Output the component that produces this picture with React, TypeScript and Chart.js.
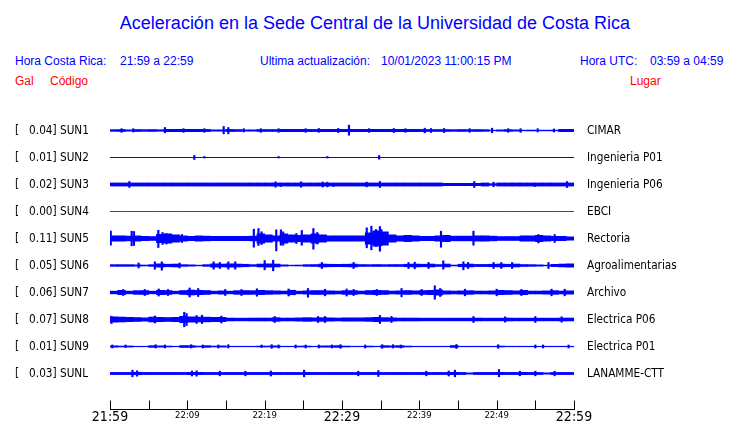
import React, { useEffect, useRef } from 'react';
import { Chart, registerables } from 'chart.js';
Chart.register(...registerables);

// ---------- data ----------
const stationCodes = ['SUN1', 'SUN2', 'SUN3', 'SUN4', 'SUN5', 'SUN6', 'SUN7', 'SUN8', 'SUN9', 'SUNL'];
const peakGal = ['0.04', '0.01', '0.02', '0.00', '0.11', '0.05', '0.06', '0.07', '0.01', '0.03'];
const places = ['CIMAR', 'Ingenieria P01', 'Ingenieria P06', 'EBCI', 'Rectoria', 'Agroalimentarias', 'Archivo', 'Electrica P06', 'Electrica P01', 'LANAMME-CTT'];
const traceColors = ['#0000ff', '#0000ff', '#0000ff', '#ff0000', '#0000ff', '#0000ff', '#0000ff', '#0000ff', '#0000ff', '#0000ff'];
// x axis: minutes after 21:59, tick every 5 min
const xTickLabels = ['21:59', '', '22:09', '', '22:19', '', '22:29', '', '22:39', '', '22:49', '', '22:59'];

// per-minute envelope half-amplitude of each record (y units, trace spacing = 27)
const band1 = [1.2, 1.3, 1.0, 1.3, 1.2, 1.3, 1.1, 1.5, 1.5, 1.5, 1.5, 1.5, 1.4, 1.0, 1.0, 1.4, 1.3, 1.0, 1.0, 1.3, 1.3, 1.3, 1.5, 1.5, 1.5, 1.4, 1.4, 1.5, 1.5, 1.5, 1.5, 1.5, 1.5, 1.5, 1.5, 1.5, 1.5, 1.5, 1.5, 1.5, 1.4, 1.3, 1.3, 1.3, 1.2, 1.3, 1.2, 1.3, 1.2, 0.7, 1.0, 1.2, 1.0, 0.7, 0.8, 0.7, 0.7, 0.7, 1.5, 1.5];
const band2 = [0.5, 0.5, 0.5, 0.5, 0.5, 0.5, 0.5, 0.5, 0.5, 0.5, 0.5, 0.5, 0.5, 0.5, 0.5, 0.5, 0.5, 0.5, 0.5, 0.5, 0.5, 0.5, 0.5, 0.5, 0.5, 0.5, 0.5, 0.5, 0.5, 0.5, 0.5, 0.5, 0.5, 0.5, 0.5, 0.5, 0.5, 0.5, 0.5, 0.5, 0.5, 0.5, 0.5, 0.5, 0.5, 0.5, 0.5, 0.5, 0.5, 0.5, 0.5, 0.5, 0.5, 0.5, 0.5, 0.5, 0.5, 0.5, 0.5, 0.5];
const band3 = [1.9, 1.9, 1.9, 1.9, 1.9, 1.9, 1.9, 1.9, 1.9, 1.9, 1.9, 1.9, 1.9, 1.9, 1.9, 1.9, 1.9, 1.9, 1.9, 1.9, 1.9, 1.9, 1.9, 1.9, 1.9, 1.9, 1.9, 1.9, 1.9, 1.9, 1.9, 1.9, 1.9, 1.9, 1.9, 1.9, 1.9, 1.9, 1.9, 1.9, 1.9, 1.9, 1.9, 1.5, 1.5, 1.5, 1.5, 1.5, 1.9, 1.2, 1.9, 1.9, 1.9, 1.9, 1.9, 1.9, 1.9, 1.9, 1.9, 1.9];
const band4 = [0.5, 0.5, 0.5, 0.5, 0.5, 0.5, 0.5, 0.5, 0.5, 0.5, 0.5, 0.5, 0.5, 0.5, 0.5, 0.5, 0.5, 0.5, 0.5, 0.5, 0.5, 0.5, 0.5, 0.5, 0.5, 0.5, 0.5, 0.5, 0.5, 0.5, 0.5, 0.5, 0.5, 0.5, 0.5, 0.5, 0.5, 0.5, 0.5, 0.5, 0.5, 0.5, 0.5, 0.5, 0.5, 0.5, 0.5, 0.5, 0.5, 0.5, 0.5, 0.5, 0.5, 0.5, 0.5, 0.5, 0.5, 0.5, 0.5, 0.5];
const band5 = [3.0, 3.0, 2.7, 3.0, 2.5, 2.3, 4.5, 5.0, 4.0, 3.0, 2.5, 3.0, 2.7, 2.5, 2.5, 2.5, 2.5, 2.5, 2.7, 5.0, 4.0, 3.0, 5.0, 4.0, 3.5, 4.0, 5.0, 4.0, 3.0, 3.0, 3.0, 3.0, 3.0, 6.0, 8.0, 7.0, 4.0, 3.0, 3.5, 3.0, 2.5, 2.5, 3.0, 3.5, 2.7, 2.7, 2.7, 3.0, 3.0, 2.7, 2.3, 2.3, 2.3, 3.0, 3.0, 3.5, 3.0, 2.5, 2.5, 2.0];
const band6 = [1.2, 1.2, 1.2, 1.0, 0.8, 1.2, 2.0, 1.6, 1.8, 1.2, 1.0, 0.7, 1.2, 2.0, 1.8, 2.0, 1.8, 1.6, 1.2, 1.8, 2.0, 1.8, 1.0, 0.7, 0.8, 1.2, 1.3, 1.8, 1.6, 1.5, 1.6, 1.8, 1.3, 1.2, 1.3, 1.2, 1.3, 1.3, 1.6, 1.8, 1.6, 1.8, 1.3, 1.8, 0.8, 1.6, 1.8, 1.4, 1.4, 1.6, 1.8, 1.6, 1.8, 1.3, 1.2, 1.0, 0.7, 1.5, 1.8, 2.0];
const band7 = [1.7, 2.5, 1.7, 2.2, 2.3, 1.7, 2.5, 2.3, 1.7, 2.3, 2.8, 2.5, 2.3, 1.7, 2.0, 1.7, 2.2, 2.3, 2.2, 2.5, 2.2, 2.0, 1.8, 2.6, 1.7, 2.0, 2.3, 2.3, 2.0, 1.8, 2.2, 2.3, 1.8, 2.3, 2.5, 2.3, 1.8, 2.0, 2.3, 2.0, 2.3, 2.5, 3.0, 2.0, 1.8, 2.0, 2.2, 1.8, 1.8, 2.0, 2.5, 2.3, 2.0, 2.5, 1.8, 1.8, 2.0, 2.2, 1.8, 2.0];
const band8 = [3.0, 2.8, 2.5, 2.3, 2.0, 2.8, 2.5, 2.3, 2.5, 3.5, 3.0, 2.8, 2.7, 2.5, 2.5, 1.8, 1.7, 1.7, 1.8, 1.8, 1.8, 2.2, 1.8, 1.8, 2.0, 2.2, 2.0, 2.2, 2.0, 1.8, 2.0, 2.0, 2.0, 2.2, 2.5, 2.2, 2.0, 1.8, 1.8, 1.8, 1.7, 1.7, 1.7, 1.7, 1.7, 1.7, 1.7, 1.8, 1.7, 1.7, 1.7, 1.8, 1.7, 1.7, 1.7, 1.7, 1.7, 1.7, 1.8, 1.8];
const band9 = [1.0, 0.8, 0.9, 0.6, 0.6, 1.2, 1.0, 0.8, 0.6, 1.3, 1.2, 0.8, 1.2, 0.8, 1.0, 0.6, 0.6, 0.6, 0.6, 0.8, 0.8, 1.0, 0.6, 0.6, 0.8, 0.8, 0.6, 1.0, 1.0, 1.2, 0.8, 0.6, 0.6, 0.8, 0.6, 1.2, 1.0, 1.2, 0.8, 0.6, 0.6, 0.6, 0.6, 0.6, 1.3, 0.6, 0.6, 0.6, 0.6, 0.6, 0.8, 0.6, 0.6, 0.6, 0.6, 0.6, 0.6, 0.6, 0.6, 0.6];
const bandL = [1.4, 1.4, 1.4, 1.6, 1.4, 1.4, 1.4, 1.4, 1.4, 1.4, 1.5, 1.5, 1.4, 1.4, 1.4, 1.4, 1.4, 1.4, 1.4, 1.4, 1.4, 1.4, 1.4, 1.4, 1.4, 1.5, 1.4, 1.4, 1.4, 1.4, 1.4, 1.4, 1.4, 1.4, 1.4, 1.4, 1.4, 1.4, 1.4, 1.4, 1.4, 1.4, 1.4, 1.4, 1.5, 1.4, 1.0, 1.4, 1.4, 1.4, 1.5, 1.4, 1.4, 1.5, 1.4, 1.4, 1.0, 1.4, 1.4, 1.4];

// short peaks: [minute, amplitude up, amplitude down]
const spikes1 = [[1.5, 1.8, 1.8], [3.0, 1.8, 1.5], [7.1, 3, 2.3], [9.5, 1.8, 1.8], [12.2, 1.8, 1.8], [14.7, 4, 3.3], [15.3, 3, 3.3], [17.3, 1.8, 1.5], [19.5, 1.8, 1.8], [21.8, 1.8, 1.8], [25.3, 1.8, 1.8], [27.0, 2, 1.8], [29.5, 2, 2], [30.9, 5.3, 4.7], [33.5, 1.8, 1.8], [36.7, 2, 2], [38.2, 1.8, 1.8], [40.7, 2.3, 2.3], [41.5, 2, 2], [43.2, 2, 2], [46.5, 1.8, 1.8], [49.4, 2.3, 2.3], [51.5, 1.8, 1.8], [53.1, 1.8, 1.8], [55.3, 1.8, 1.5], [57.4, 1.5, 1.5]];
const spikes2 = [[10.9, 2, 2], [12.2, 1, 0.5], [21.8, 1, 0.5], [28.1, 1, 0.5], [34.8, 2, 1.7]];
const spikes3 = [[2.5, 3, 3], [21.4, 2.7, 2.7], [22.1, 0.5, 2], [24.7, 2.7, 2.7], [27.5, 2.5, 2.5], [28.1, 2.3, 2.3], [28.9, 0.5, 2], [33.2, 2.3, 2.3], [34.9, 3, 3], [47.1, 3, 3], [49.6, 2.3, 2.3], [54.9, 0.5, 2], [59.1, 3, 3]];
const spikes4: number[][] = [];
const spikes5 = [[0.1, 7.3, 6.7], [2.8, 7.3, 7.3], [3.1, 7, 7], [6.25, 8.3, 9], [6.8, 6, 6], [7.3, 5, 5.5], [9.3, 4, 4], [18.6, 9.3, 8.7], [19.2, 10, 7], [19.6, 6.7, 6], [21.5, 8.7, 12.3], [22.1, 8.7, 6.7], [22.4, 6.7, 6.7], [24.1, 5, 5], [24.8, 8, 6.7], [26.3, 10, 10.7], [26.8, 6, 5.5], [33.2, 10.7, 9.3], [33.8, 12.3, 11.3], [34.4, 9, 8], [34.9, 12, 12.7], [35.1, 9, 7.3], [42.8, 7.3, 8.7], [47.0, 7.3, 6.7], [55.4, 4, 4.5], [57.5, 4, 4]];
const spikes6 = [[3.7, 2.5, 2.5], [5.8, 3.7, 3.7], [6.7, 3.7, 4.7], [9.0, 2.5, 2.5], [13.4, 3.7, 3.7], [14.2, 3, 3], [15.3, 3.7, 3.7], [16.2, 3.7, 3.7], [20.0, 5, 4.3], [21.1, 5.3, 5.3], [27.4, 3, 3], [31.5, 3, 3], [38.6, 3, 3], [39.4, 3.3, 3.3], [41.2, 3, 3], [43.1, 4.7, 3.7], [45.7, 3.7, 4.3], [46.3, 3, 3], [49.6, 3, 3], [50.6, 3, 3], [52.0, 3, 3], [56.7, 3, 3]];
const spikes7 = [[1.7, 3, 3], [4.5, 3, 3], [6.3, 3.5, 3.5], [7.5, 3, 3], [10.3, 4.5, 4.5], [11.4, 4, 4], [14.9, 3, 3], [17.0, 3, 3], [19.0, 3.7, 3.7], [23.1, 3.5, 3.5], [25.6, 4, 4.7], [27.8, 3.3, 3.3], [30.6, 3.5, 3.5], [31.5, 3, 3], [34.5, 3, 3], [37.7, 4, 4.3], [40.3, 3, 3], [42.0, 6.7, 6.7], [42.7, 4, 4], [45.9, 3.3, 3.3], [50.0, 3.3, 3.3], [53.2, 3, 3], [57.1, 3.3, 3.3], [58.8, 3.3, 3.3]];
const spikes8 = [[0.2, 3.3, 4], [5.8, 3.5, 3.5], [9.6, 7.3, 7.3], [9.9, 6, 6], [11.2, 4, 4], [11.9, 4.3, 4], [14.4, 3.5, 3.5], [21.3, 3, 3], [26.9, 3, 3], [27.8, 3, 3], [34.9, 4, 4], [36.4, 3, 3], [47.0, 3, 3], [51.1, 2.7, 2.7], [55.0, 3, 3], [58.4, 2.7, 2.7]];
const spikes9 = [[0.3, 1.5, 1.5], [2.0, 1.5, 1], [5.9, 1.8, 1.5], [7.1, 1.5, 1.5], [10.5, 1.8, 1.5], [12.0, 1.5, 1.5], [14.0, 1.5, 1.5], [15.3, 1.8, 1.5], [19.6, 1.5, 1], [20.9, 1.8, 1.8], [21.8, 1.5, 1.5], [24.0, 1.5, 1.5], [25.3, 1.5, 1.5], [27.0, 1.5, 1.5], [28.7, 1.5, 1.5], [29.8, 1.8, 1.8], [33.0, 1.5, 1.5], [35.2, 1.8, 1.8], [36.6, 1.8, 1.5], [37.6, 1.5, 1.5], [44.8, 2, 2], [50.2, 1.8, 1.8], [55.0, 1.5, 1.5], [56.0, 1.5, 1.5], [59.3, 1.5, 1.5]];
const spikesL = [[2.9, 3.3, 3.3], [3.5, 2.7, 2.7], [10.6, 2.5, 2.5], [11.2, 2.7, 2.7], [14.2, 2.3, 2.3], [17.5, 2.3, 2.3], [20.8, 2.5, 2.5], [25.1, 3.3, 3.3], [32.1, 2.3, 2.3], [34.7, 3, 3], [40.9, 2.3, 2.3], [43.8, 2.5, 2.5], [44.6, 3.3, 3.3], [50.3, 4, 3.3], [53.0, 2.3, 2.3], [55.0, 2.3, 2.3], [57.5, 2.3, 2.3]];

const bands = [band1, band2, band3, band4, band5, band6, band7, band8, band9, bandL];
const spikes = [spikes1, spikes2, spikes3, spikes4, spikes5, spikes6, spikes7, spikes8, spikes9, spikesL];

// ---------- layout constants ----------
const TRACE_SPACING = 27;
const W = 740;
const H = 423;
const SIDE_FONT = "'DejaVu Sans Condensed', 'DejaVu Sans', sans-serif";
const HEAD_FONT = "'Liberation Sans', Arial, Helvetica, sans-serif";
const BLUE = '#0000ff';
const RED = '#ff0000';

const traceOffset = (i: number) => (stationCodes.length - i) * TRACE_SPACING;

const upTicks = {
  id: 'upTicks',
  afterDraw(chart: any) {
    const xs = chart.scales.x;
    const { ctx, chartArea } = chart;
    const b = chartArea.bottom + 0.5;
    ctx.save();
    ctx.strokeStyle = '#000';
    ctx.lineWidth = 1;
    ctx.beginPath();
    ctx.moveTo(chartArea.left, b);
    ctx.lineTo(chartArea.right + 1, b);
    xs.ticks.forEach((t: any) => {
      const px = Math.round(xs.getPixelForValue(t.value)) + 0.5;
      ctx.moveTo(px, b - 9);
      ctx.lineTo(px, b);
    });
    ctx.stroke();
    ctx.restore();
  },
};

const noPad = (s: any) => {
  s.paddingTop = 0;
  s.paddingBottom = 0;
  s.paddingLeft = 0;
  s.paddingRight = 0;
};

export default function App() {
  const ref = useRef<HTMLCanvasElement | null>(null);

  useEffect(() => {
    if (!ref.current) return;
    const datasets: any[] = [];
    // per-minute envelope: one floating bar per minute, centred in its minute
    bands.forEach((band, i) => {
      const off = traceOffset(i);
      datasets.push({
        type: 'bar',
        xAxisID: 'x',
        data: band.map((a, m) => ({ x: m + 0.5, y: [off - a, off + a] })),
        backgroundColor: traceColors[i],
        borderWidth: 0,
        categoryPercentage: 1,
        barPercentage: 1.08,
        grouped: false,
      });
    });
    // short peaks on a hidden twin x axis so they don't affect the envelope bar width
    spikes.forEach((list, i) => {
      const off = traceOffset(i);
      datasets.push({
        type: 'bar',
        xAxisID: 'x2',
        data: list.map(([m, up, down]) => ({ x: m, y: [off - down, off + up] })),
        backgroundColor: traceColors[i],
        borderWidth: 0,
        barThickness: 1.5,
        grouped: false,
      });
    });

    const offsets = stationCodes.map((_, i) => traceOffset(i));
    const labelFor = (v: number) => stationCodes.length - Math.round(v / TRACE_SPACING);

    const chart = new Chart(ref.current, {
      type: 'bar',
      data: { datasets },
      plugins: [upTicks],
      options: {
        responsive: false,
        animation: false,
        events: [],
        layout: { padding: { left: 15, top: 103, right: 0, bottom: 0 } },
        plugins: { legend: { display: false }, tooltip: { enabled: false }, title: { display: false } },
        scales: {
          x: {
            type: 'linear',
            offset: false,
            min: 0,
            max: 60,
            grid: { display: false, drawTicks: false, tickLength: 0, offset: false },
            border: { display: false },
            afterFit: (s: any) => { s.height = 14; noPad(s); },
            ticks: {
              stepSize: 5,
              autoSkip: false,
              maxRotation: 0,
              padding: 0,
              color: '#000',
              callback: (v: any) => xTickLabels[Math.round(Number(v) / 5)] ?? '',
              font: (ctx: any) => {
                const big = ctx.tick && Math.round(ctx.tick.value) % 30 === 0;
                return big
                  ? { size: 14, family: SIDE_FONT, lineHeight: 1.2 }
                  : { size: 8.5, family: "'DejaVu Sans', sans-serif", lineHeight: 1.5 };
              },
            },
          },
          x2: {
            type: 'linear',
            display: false,
            offset: false,
            min: 0,
            max: 60,
            grid: { display: false, offset: false },
          },
          y: {
            type: 'linear',
            position: 'left',
            min: -8.5,
            max: 297.5,
            grid: { display: false, drawTicks: false, tickLength: 0 },
            border: { display: false },
            afterFit: (s: any) => { s.width = 95; noPad(s); },
            afterBuildTicks: (s: any) => { s.ticks = offsets.map((v) => ({ value: v })); },
            ticks: {
              crossAlign: 'far',
              padding: 0,
              color: '#000',
              font: { size: 11.7, family: SIDE_FONT },
              callback: (v: any) => {
                const i = labelFor(Number(v));
                return `[   ${peakGal[i]}] ${stationCodes[i]}`;
              },
            },
          },
          y2: {
            type: 'linear',
            position: 'right',
            min: -8.5,
            max: 297.5,
            grid: { display: false, drawTicks: false, tickLength: 0 },
            border: { display: false },
            afterFit: (s: any) => { s.width = 166; noPad(s); },
            afterBuildTicks: (s: any) => { s.ticks = offsets.map((v) => ({ value: v })); },
            ticks: {
              crossAlign: 'near',
              padding: 13,
              color: '#000',
              font: { size: 11.7, family: SIDE_FONT },
              callback: (v: any) => places[labelFor(Number(v))],
            },
          },
        },
      } as any,
    });
    return () => chart.destroy();
  }, []);

  const txt = (left: number, top: number, color: string, size: number, s: string) => (
    <div style={{ position: 'absolute', left, top, color, fontSize: size, fontFamily: HEAD_FONT, lineHeight: `${size}px`, whiteSpace: 'pre' }}>{s}</div>
  );

  return (
    <div style={{ position: 'absolute', left: 0, top: 0, width: W, height: H, background: '#fff' }}>
      <div style={{ position: 'absolute', left: 0, top: 14, width: W + 10, textAlign: 'center', color: BLUE, fontSize: 18, fontFamily: HEAD_FONT, lineHeight: '18px', whiteSpace: 'pre' }}>
        Aceleración en la Sede Central de la Universidad de Costa Rica
      </div>
      {txt(15, 55, BLUE, 12, 'Hora Costa Rica:')}
      {txt(120, 55, BLUE, 12, '21:59 a 22:59')}
      {txt(260, 55, BLUE, 12, 'Ultima actualización:')}
      {txt(381, 55, BLUE, 12, '10/01/2023 11:00:15 PM')}
      {txt(580, 55, BLUE, 12, 'Hora UTC:')}
      {txt(650, 55, BLUE, 12, '03:59 a 04:59')}
      {txt(15, 75, RED, 12, 'Gal')}
      {txt(50, 75, RED, 12, 'Código')}
      {txt(630, 75, RED, 12, 'Lugar')}
      <canvas ref={ref} width={W} height={H} style={{ position: 'absolute', left: 0, top: 0, width: W, height: H }} />
    </div>
  );
}
